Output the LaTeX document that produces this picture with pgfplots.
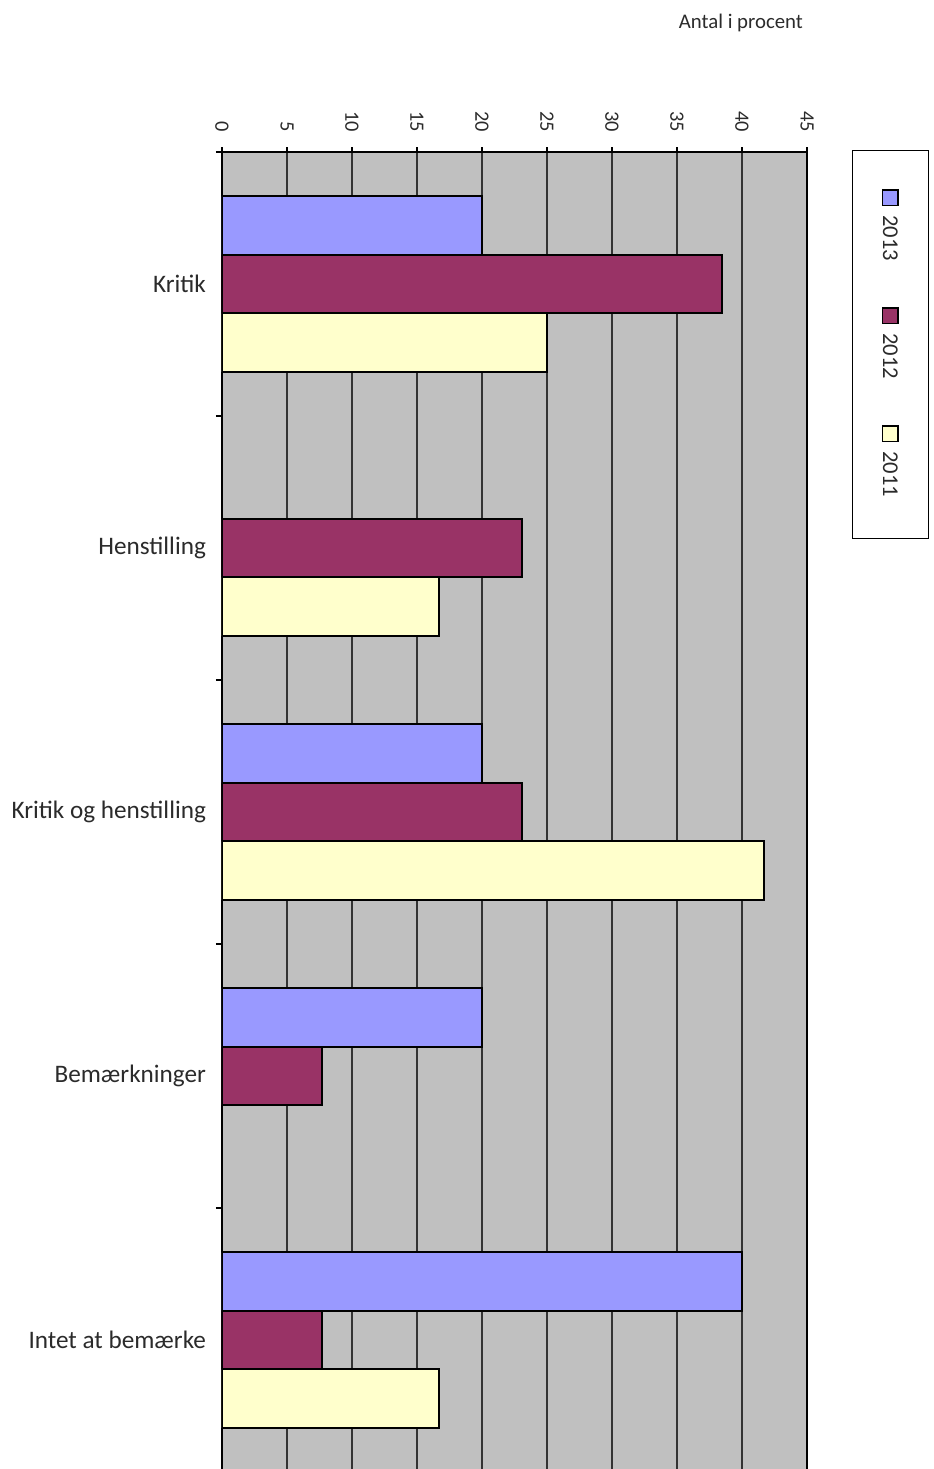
\documentclass[border=0pt]{standalone}
\usepackage{graphicx}
\usepackage{pgfplots}
\pgfplotsset{compat=1.18}
\usepackage{fontspec}
\setmainfont{Carlito}
\definecolor{c2013}{HTML}{9999FF}
\definecolor{c2012}{HTML}{993366}
\definecolor{c2011}{HTML}{FFFFCC}
\definecolor{bgc}{HTML}{C0C0C0}
\definecolor{txt}{HTML}{2B2B2B}
\newcommand{\lgd}[2]{\raisebox{\depth}{\rotatebox{-90}{{\setlength{\fboxsep}{0pt}\setlength{\fboxrule}{0.8pt}\raisebox{0.2pt}{\fcolorbox{black}{#1}{\rule{0pt}{7pt}\hspace{7pt}}}}\hspace{4.5pt}#2}}}
\begin{document}
\begin{tikzpicture}
\begin{axis}[
  at={(0pt,0pt)}, anchor=north west,
  scale only axis, width=292.5pt, height=660pt,
  xbar, y dir=reverse,
  xmin=0, xmax=45, ymin=-0.5, ymax=4.5,
  xtick={0,5,...,45},
  xtick pos=right, xticklabel pos=right,
  /pgf/number format/assume math mode=true,
  xticklabel style={rotate=-90, anchor=east, font=\fontsize{10.2}{10}\selectfont, text=txt},
  xticklabel shift=4pt,
  ytick={0,...,4},
  yticklabels={Kritik, Henstilling, Kritik og henstilling, Bemærkninger, Intet at bemærke},
  yticklabel style={font=\fontsize{12.6}{14}\selectfont, text=txt, xshift=-2pt},
  ytick pos=left,
  minor ytick={-0.5,0.5,1.5,2.5,3.5,4.5},
  ytick style={draw=none},
  minor y tick style={draw=black, line width=0.6pt},
  xtick style={draw=black, line width=0.6pt},
  tick align=outside,
  major tick length=2.5pt, minor tick length=3pt,
  xmajorgrids, major x grid style={black!80, line width=0.6pt},
  axis line style={black, line width=1pt},
  axis background/.style={fill=bgc},
  title={Antal i procent},
  title style={at={(0.887,1.089)}, anchor=center, font=\fontsize{10.4}{12}\selectfont, text=txt},
  legend style={at={(1.1427,0.8542)}, anchor=center, draw=black, line width=0.5pt, fill=white,
    font=\fontsize{11.3}{12}\selectfont, text=txt, inner xsep=12.5pt, inner ysep=17pt, row sep=17.5pt},
  legend plot pos=none,
  legend columns=1,
  legend cell align=center,
]
\addplot[fill=c2013, draw=black, line width=0.9pt, bar width=0.2216, bar shift=-0.2216]
  coordinates {(20,0) (20,2) (20,3) (40,4)};
\addplot[fill=c2012, draw=black, line width=0.9pt, bar width=0.2216, bar shift=0]
  coordinates {(38.46,0) (23.08,1) (23.08,2) (7.69,3) (7.69,4)};
\addplot[fill=c2011, draw=black, line width=0.9pt, bar width=0.2216, bar shift=0.2216]
  coordinates {(25,0) (16.67,1) (41.67,2) (16.67,4)};
\legend{\lgd{c2013}{2013},\lgd{c2012}{2012},\lgd{c2011}{2011}}
\end{axis}
\pgfresetboundingbox
\path[use as bounding box] (-111pt,76pt) rectangle (355.5pt,-658.5pt);
\end{tikzpicture}
\end{document}
